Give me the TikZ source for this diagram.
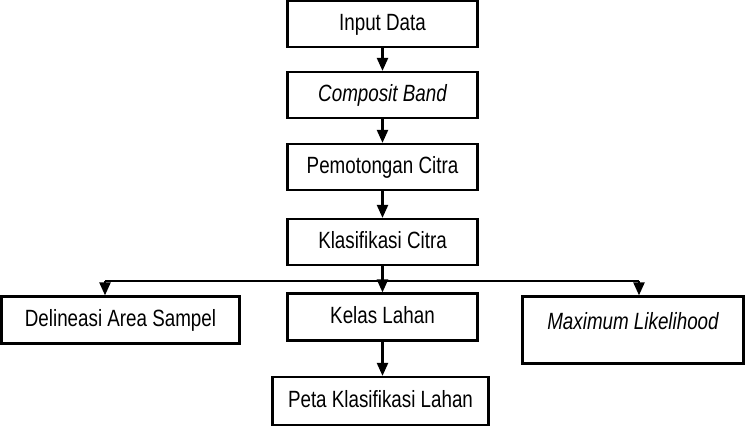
\documentclass[tikz,border=0pt]{standalone}
\usepackage{fontspec}
\setmainfont{Liberation Sans}[FakeStretch=0.8]
\usetikzlibrary{arrows.meta}
\begin{document}
\begin{tikzpicture}[x=1pt,y=-1pt,
  box/.style={draw=black,line width=2.2pt,inner xsep=2pt,inner ysep=0pt,
    font=\fontsize{23.5}{25}\selectfont,text height=17pt,text depth=4pt},
  arr/.style={line width=2.2pt,-{Triangle[width=11pt,length=13pt]}},
  ln/.style={line width=2.2pt}]
\useasboundingbox (0,0) rectangle (745,427);
\node[box,minimum width=190pt,minimum height=46pt] (in) at (382.5,24) {Input Data};
\node[box,minimum width=190pt,minimum height=46pt] (comp) at (382.5,95) {\itshape Composit Band};
\node[box,minimum width=190pt,minimum height=46pt] (pot) at (382.5,167) {Pemotongan Citra};
\node[box,minimum width=190pt,minimum height=46pt] (kls) at (382.5,242) {Klasifikasi Citra};
\node[box,minimum width=238pt,minimum height=47pt] (del) at (120.5,320) {Delineasi Area Sampel};
\node[box,minimum width=190pt,minimum height=47pt] (kel) at (382.5,317) {Kelas Lahan};
\node[box,minimum width=221pt,text height=33pt,text depth=34pt] (max) at (633,330) {\itshape Maximum Likelihood};
\node[box,minimum width=216pt,minimum height=48pt] (peta) at (380.5,401) {Peta Klasifikasi Lahan};
\coordinate (jl) at (105,281);
\coordinate (jr) at (639,281);
\draw[arr] (in) -- (comp);
\draw[arr] (comp) -- (pot);
\draw[arr] (pot) -- (kls);
\draw[arr] (kls) -- (kel);
\draw[ln] (jl) -- (jr);
\draw[arr] (jl) -- (jl |- del.north);
\draw[arr] (jr) -- (jr |- max.north);
\draw[arr] (kel.south) -- (kel.south |- peta.north);
\end{tikzpicture}
\end{document}
